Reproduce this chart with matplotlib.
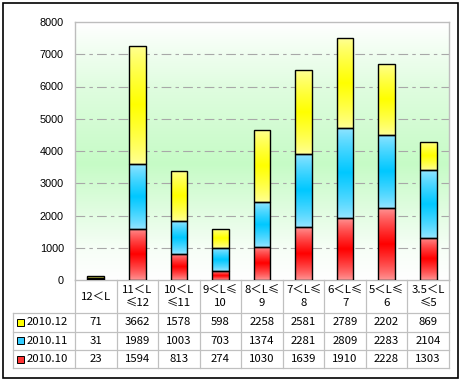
import numpy as np
import matplotlib
matplotlib.use('Agg')
import matplotlib.pyplot as plt
import matplotlib.transforms as mtransforms
from matplotlib.colors import to_rgb
from matplotlib.patches import Rectangle
from matplotlib.lines import Line2D

plt.rcParams['lines.scale_dashes'] = False

categories = ["12＜L", "11＜L\n≤12", "10＜L\n≤11", "9＜L≤\n10", "8＜L≤\n9",
              "7＜L≤\n8", "6＜L≤\n7", "5＜L≤\n6", "3.5＜L\n≤5"]
series_names = ["2010.12", "2010.11", "2010.10"]
v_2010_12 = [71, 3662, 1578, 598, 2258, 2581, 2789, 2202, 869]
v_2010_11 = [31, 1989, 1003, 703, 1374, 2281, 2809, 2283, 2104]
v_2010_10 = [23, 1594, 813, 274, 1030, 1639, 1910, 2228, 1303]
y_ticks = [0, 1000, 2000, 3000, 4000, 5000, 6000, 7000, 8000]

# (light, dark) gradient colours per series
colors = {
    "2010.12": ("#ffff99", "#ffff00"),
    "2010.11": ("#99e6ff", "#00c8ff"),
    "2010.10": ("#ff9999", "#ff0000"),
}
key_colors = {"2010.12": "#ffff00", "2010.11": "#33ccff", "2010.10": "#ff3333"}

W, H = 462, 383
fig = plt.figure(figsize=(W / 100, H / 100), dpi=100)
fig.patch.set_facecolor('white')


def fx(px):
    return px / W


def fy(px):
    return 1 - px / H


ax = fig.add_axes([fx(75), fy(280), fx(449) - fx(75), fy(22) - fy(280)])
x = np.arange(len(categories))

# background gradient
N = 256
t = np.linspace(1, 0, N)  # top -> bottom in axes fraction
white = np.array([1, 1, 1.0])
green = np.array(to_rgb("#c6fbc6"))
stops_t = [0.0, 0.12, 0.45, 0.75, 1.0]
stops_w = [0.0, 0.15, 1.0, 0.55, 0.0]
w = np.interp(t, stops_t, stops_w)
bg = white[None, :] * (1 - w[:, None]) + green[None, :] * w[:, None]
bg = np.repeat(bg[:, None, :], 2, axis=1)
ax.imshow(bg, extent=(0, 1, 0, 1), transform=ax.transAxes, aspect='auto',
          zorder=0, interpolation='bilinear')

# grid lines
ax.hlines(y_ticks[1:-1], -0.5, len(categories) - 0.5, colors='#a8a8a8',
          linestyles=[(0, (7, 3, 2.5, 3))], lw=0.8, zorder=1)


def seg_gradient(light, dark, n=128):
    tt = np.linspace(0, 1, n)
    ww = 1 - np.abs(tt - 0.5) / 0.5
    ww = np.clip(ww, 0, 1) ** 0.8
    l = np.array(to_rgb(light))
    d = np.array(to_rgb(dark))
    g = l[None, :] * (1 - ww[:, None]) + d[None, :] * ww[:, None]
    return np.repeat(g[:, None, :], 2, axis=1)


bottoms = np.zeros(len(categories))
for name, vals in [("2010.10", v_2010_10), ("2010.11", v_2010_11), ("2010.12", v_2010_12)]:
    bars = ax.bar(x, vals, width=0.4, bottom=bottoms, facecolor='none',
                  edgecolor='black', lw=1.0, zorder=3)
    light, dark = colors[name]
    for p in bars.patches:
        x0, y0 = p.get_x(), p.get_y()
        im = ax.imshow(seg_gradient(light, dark),
                       extent=(x0, x0 + p.get_width(), y0, y0 + p.get_height()),
                       aspect='auto', zorder=2, interpolation='bilinear')
        im.set_clip_path(p)
    bottoms = bottoms + np.array(vals)

ax.set_xlim(-0.5, len(categories) - 0.5)
ax.set_ylim(0, 8000)
ax.set_yticks(y_ticks)
ax.set_yticklabels([str(v) for v in y_ticks], fontfamily='Liberation Sans', fontsize=7.8)
ax.set_xticks([])
ax.tick_params(axis='y', length=0, pad=8)
for s in ['left', 'top', 'right', 'bottom']:
    ax.spines[s].set_color('#bdbdbd')
    ax.spines[s].set_linewidth(1.0)

# data table
blend = mtransforms.blended_transform_factory(ax.transData, fig.transFigure)
gcol = '#c0c0c0'
cjk = ['Noto Sans CJK SC', 'DejaVu Sans']
fs = 8.2
row_y = [313, 331.5, 350, 368]
for yy in row_y:
    fig.add_artist(Line2D([fx(13), fx(449)], [fy(yy), fy(yy)], transform=fig.transFigure,
                          color=gcol, lw=0.9))
fig.add_artist(Line2D([fx(13), fx(13)], [fy(313), fy(368)], transform=fig.transFigure,
                      color=gcol, lw=0.9))
for i in range(len(categories) + 1):
    ax.plot([i - 0.5, i - 0.5], [fy(280), fy(368)], transform=blend, color=gcol,
            lw=0.9, clip_on=False, zorder=5)

for i, c in enumerate(categories):
    ax.text(i, fy(296.5), c, transform=blend, ha='center', va='center',
            fontfamily=cjk, fontsize=fs, linespacing=1.4, clip_on=False)

rows = [("2010.12", v_2010_12), ("2010.11", v_2010_11), ("2010.10", v_2010_10)]
for r, (name, vals) in enumerate(rows):
    yc = (row_y[r] + row_y[r + 1]) / 2
    for i, v in enumerate(vals):
        ax.text(i, fy(yc), str(v), transform=blend, ha='center', va='center',
                fontfamily=cjk, fontsize=fs, clip_on=False)
    fig.add_artist(Rectangle((fx(17), fy(yc + 3.5)), fx(7), 7 / H,
                             transform=fig.transFigure, facecolor=key_colors[name],
                             edgecolor='black', lw=0.7))
    fig.text(fx(27), fy(yc), name, ha='left', va='center', fontfamily=cjk,
             fontsize=fs)

# outer border
fig.add_artist(Rectangle((fx(3), fy(378)), fx(455), 375 / H, transform=fig.transFigure,
                         fill=False, edgecolor='black', lw=1.2))

fig.savefig('out.png', dpi=100)
